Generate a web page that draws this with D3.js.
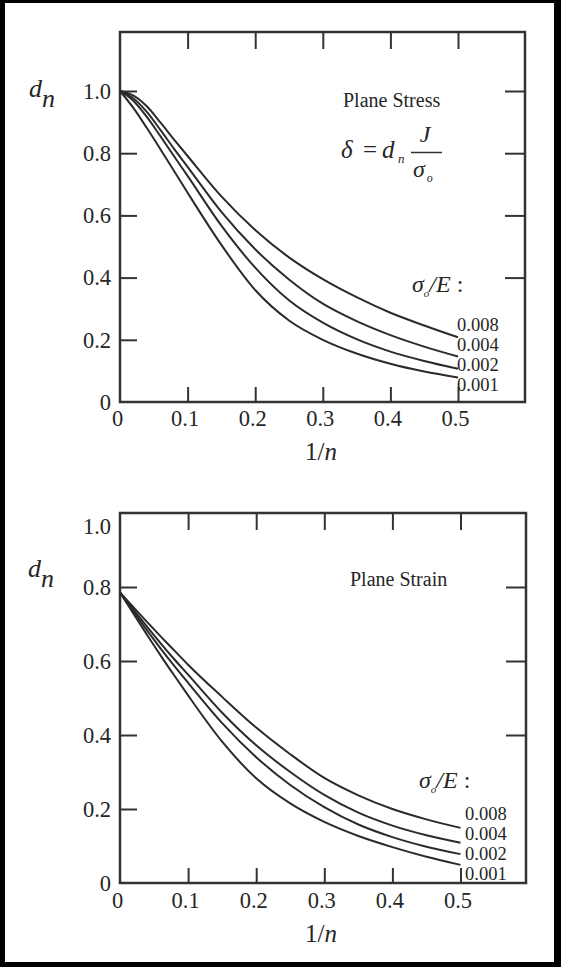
<!DOCTYPE html>
<html>
<head>
<meta charset="utf-8">
<script src="https://cdn.jsdelivr.net/npm/d3@7.9.0/dist/d3.min.js"></script>
<style>
  body { margin: 0; background: #000; }
  svg { display: block; }
  text { font-family: "Liberation Serif", "DejaVu Serif", serif; fill: #262626; }
</style>
</head>
<body>
<svg width="561" height="967"></svg>
<script>
// 1/n values the curves were read at
const invN = [0, 0.02, 0.04, 0.06, 0.08, 0.1, 0.15, 0.2, 0.25, 0.3, 0.35, 0.4, 0.45, 0.5];
const ratioLabels = ['0.008', '0.004', '0.002', '0.001'];

// plane stress, d_n for each sigma_o/E
const stress008 = [1.0, 0.985, 0.95, 0.898, 0.844, 0.791, 0.661, 0.553, 0.465, 0.395, 0.337, 0.287, 0.246, 0.208];
const stress004 = [1.0, 0.976, 0.932, 0.874, 0.814, 0.756, 0.611, 0.491, 0.394, 0.316, 0.26, 0.215, 0.178, 0.146];
const stress002 = [1.0, 0.968, 0.916, 0.854, 0.79, 0.727, 0.567, 0.432, 0.327, 0.255, 0.202, 0.162, 0.132, 0.107];
const stress001 = [1.0, 0.945, 0.88, 0.812, 0.743, 0.673, 0.505, 0.36, 0.262, 0.2, 0.156, 0.123, 0.098, 0.079];

// plane strain
const strain008 = [0.785, 0.745, 0.705, 0.666, 0.628, 0.59, 0.503, 0.42, 0.348, 0.284, 0.237, 0.2, 0.172, 0.149];
const strain004 = [0.785, 0.738, 0.692, 0.647, 0.604, 0.563, 0.46, 0.372, 0.3, 0.238, 0.19, 0.155, 0.129, 0.109];
const strain002 = [0.785, 0.733, 0.682, 0.633, 0.586, 0.541, 0.432, 0.34, 0.265, 0.205, 0.158, 0.124, 0.098, 0.078];
const strain001 = [0.785, 0.727, 0.67, 0.614, 0.56, 0.507, 0.382, 0.283, 0.215, 0.165, 0.127, 0.097, 0.071, 0.049];

const xTicks = [0, 0.1, 0.2, 0.3, 0.4, 0.5];
const yTicks = [0, 0.2, 0.4, 0.6, 0.8, 1.0];

let svg = d3.select('svg');

// white page inside the black scan border
svg.append('rect').attr('x', 5).attr('y', 3).attr('width', 549).attr('height', 959).attr('fill', '#fff');

let fmt = (d) => (d === 0 ? '0' : d3.format('.1f')(d));

function drawPanel(p) {
  let x = d3.scaleLinear().domain([0, 0.5]).range([p.left, p.x05]);
  let y = d3.scaleLinear().domain([0, 1]).range([p.bottom, p.y1]);
  let g = svg.append('g');

  // bottom axis with labels, ticks point inward
  let bx = g.append('g')
    .attr('transform', `translate(0,${p.bottom})`)
    .call(d3.axisBottom(x).tickValues(xTicks).tickSize(-15).tickPadding(p.xPad).tickFormat(fmt));
  bx.selectAll('text').attr('font-size', 22.5).attr('dx', -3);
  bx.selectAll('.tick line').filter((d) => d === 0).remove();

  g.append('g')
    .attr('transform', `translate(0,${p.top})`)
    .call(d3.axisTop(x).tickValues(xTicks.slice(1)).tickSize(-17).tickFormat(''));

  let ly = g.append('g')
    .attr('transform', `translate(${p.left},0)`)
    .call(d3.axisLeft(y).tickValues(yTicks).tickSize(-17).tickPadding(9).tickFormat(fmt));
  ly.selectAll('text').attr('font-size', 22.5);
  ly.selectAll('.tick line').filter((d) => p.noLeftTick.includes(d)).remove();
  // bottom panel prints its 1.0 a bit under the frame
  ly.selectAll('.tick text').filter((d) => d === 1).attr('dy', p.topLabelDy);

  g.append('g')
    .attr('transform', `translate(${p.right},0)`)
    .call(d3.axisRight(y).tickValues(p.rightTicks).tickSize(-20).tickFormat(''));

  g.selectAll('.domain').remove();
  g.selectAll('.tick line').attr('stroke', '#333').attr('stroke-width', 2);
  g.selectAll('.tick text').attr('fill', '#262626').attr('font-family', '"Liberation Serif", serif');

  g.append('rect')
    .attr('x', p.left).attr('y', p.top)
    .attr('width', p.right - p.left).attr('height', p.bottom - p.top)
    .attr('fill', 'none').attr('stroke', '#333').attr('stroke-width', 2.5);

  let line = d3.line()
    .x((d, i) => x(invN[i]))
    .y((d) => y(d))
    .curve(d3.curveMonotoneX);

  p.series.forEach((s, i) => {
    g.append('path').attr('d', line(s))
      .attr('fill', 'none').attr('stroke', '#2b2b2b').attr('stroke-width', 2);
    g.append('text').attr('x', p.labelX).attr('y', p.labelY[i])
      .attr('font-size', 18.5).text(ratioLabels[i]);
  });

  // d_n
  let dn = g.append('text').attr('x', p.dnX).attr('y', p.dnY).attr('font-size', 26).attr('font-style', 'italic');
  dn.append('tspan').text('d');
  dn.append('tspan').attr('dy', 10).text('n');

  // 1/n
  let xl = g.append('text').attr('x', 321).attr('y', p.xLabelY).attr('font-size', 25).attr('text-anchor', 'middle');
  xl.append('tspan').text('1/');
  xl.append('tspan').attr('font-style', 'italic').text('n');

  g.append('text').attr('x', p.titleX).attr('y', p.titleY).attr('font-size', 20).text(p.title);

  // sigma_o/E :
  let se = g.append('text').attr('x', p.sigX).attr('y', p.sigY).attr('font-size', 24);
  se.append('tspan').attr('font-style', 'italic').text('σ');
  se.append('tspan').attr('font-style', 'italic').attr('font-size', 11).attr('dy', 5).text('o');
  se.append('tspan').attr('font-style', 'italic').attr('dy', -5).text('/E');
  se.append('tspan').text(' :');

  return g;
}

let stressPanel = drawPanel({
  left: 120, right: 525, top: 32, bottom: 402, x05: 458, y1: 91,
  xPad: 8.5, noLeftTick: [0], topLabelDy: '0.32em', rightTicks: [0.4, 0.6, 0.8, 1.0],
  series: [stress008, stress004, stress002, stress001],
  labelX: 457, labelY: [331, 351, 371, 391],
  dnX: 29, dnY: 97, xLabelY: 460,
  title: 'Plane Stress', titleX: 343, titleY: 107,
  sigX: 412, sigY: 292
});

// delta = d_n J / sigma_o
let eq = stressPanel.append('text').attr('y', 158).attr('font-size', 25);
eq.append('tspan').attr('x', 341).attr('font-style', 'italic').text('δ');
eq.append('tspan').attr('x', 363).text('=');
eq.append('tspan').attr('x', 382).attr('font-style', 'italic').text('d');
eq.append('tspan').attr('x', 398).attr('font-style', 'italic').attr('font-size', 13).attr('dy', 5).text('n');
stressPanel.append('line').attr('x1', 411).attr('x2', 442).attr('y1', 152.5).attr('y2', 152.5)
  .attr('stroke', '#333').attr('stroke-width', 1.5);
stressPanel.append('text').attr('x', 425).attr('y', 142).attr('font-size', 24).attr('font-style', 'italic')
  .attr('text-anchor', 'middle').text('J');
let so = stressPanel.append('text').attr('x', 413).attr('y', 177).attr('font-size', 24).attr('font-style', 'italic');
so.append('tspan').text('σ');
so.append('tspan').attr('font-size', 12).attr('dy', 5).attr('dx', 2).text('o');

let strainPanel = drawPanel({
  left: 120, right: 526, top: 513, bottom: 883, x05: 460.5, y1: 513,
  xPad: 9.5, noLeftTick: [0, 1], topLabelDy: '0.9em', rightTicks: [0.4, 0.6, 0.8],
  series: [strain008, strain004, strain002, strain001],
  labelX: 465, labelY: [820, 840, 860, 880],
  dnX: 28, dnY: 577, xLabelY: 942,
  title: 'Plane Strain', titleX: 350, titleY: 586,
  sigX: 419, sigY: 788
});
</script>
</body>
</html>
